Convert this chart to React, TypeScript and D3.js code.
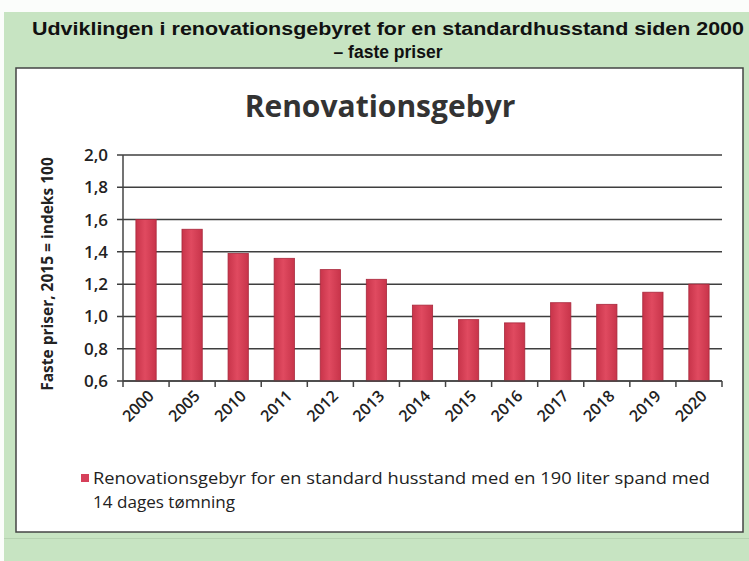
import { useMemo } from 'react';
import * as d3 from 'd3';

const years = ['2000', '2005', '2010', '2011', '2012', '2013', '2014', '2015', '2016', '2017', '2018', '2019', '2020'];
const fee = [1.6, 1.54, 1.39, 1.36, 1.29, 1.23, 1.07, 0.98, 0.96, 1.085, 1.075, 1.15, 1.2];
const yTicks = [0.6, 0.8, 1.0, 1.2, 1.4, 1.6, 1.8, 2.0];

const W = 749;
const H = 561;
const PLOT = { left: 123, right: 722, top: 155, bottom: 381 };

export default function App() {
    const x = useMemo(
        () => d3.scaleBand<string>().domain(years).range([PLOT.left, PLOT.right]).paddingInner(0.56).paddingOuter(0.28),
        []
    );
    const y = useMemo(() => d3.scaleLinear().domain([0.6, 2.0]).range([PLOT.bottom, PLOT.top]), []);
    const fmt = (v: number) => d3.format('.1f')(v).replace('.', ',');
    const tickXs = d3.range(years.length + 1).map((i) => PLOT.left + i * ((PLOT.right - PLOT.left) / years.length));

    return (
        <svg width={W} height={H} style={{ position: 'absolute', left: 0, top: 0 }}>
            <defs>
                <linearGradient id="bar" x1="0" x2="1" y1="0" y2="0">
                    <stop offset="0" stopColor="#c8344a" />
                    <stop offset="0.45" stopColor="#e04a60" />
                    <stop offset="1" stopColor="#c8344a" />
                </linearGradient>
            </defs>
            <rect x={0} y={0} width={W} height={H} fill="#fbfdfb" />
            <rect x={4} y={12} width={W - 4} height={H - 12} fill="#c7e4c2" />
            <text
                x={388}
                y={35}
                textAnchor="middle"
                fontFamily="Liberation Sans, Arial, sans-serif"
                fontWeight="bold"
                fontSize={17.5}
                textLength={712}
                lengthAdjust="spacingAndGlyphs"
                fill="#111"
            >
                Udviklingen i renovationsgebyret for en standardhusstand siden 2000
            </text>
            <text x={388} y={58} textAnchor="middle" fontFamily="Liberation Sans, Arial, sans-serif" fontWeight="bold" fontSize={17.5} fill="#111">
                – faste priser
            </text>
            <rect x={16} y={68} width={727} height={464} fill="#ffffff" stroke="#444" strokeWidth={1.5} />
            <text x={380} y={117} textAnchor="middle" fontFamily="Open Sans, sans-serif" fontWeight="bold" fontSize={30} fill="#333">
                Renovationsgebyr
            </text>

            {/* gridlines + y ticks */}
            {yTicks.map((t) => (
                <g key={t}>
                    <line x1={PLOT.left - 6} x2={PLOT.right} y1={y(t)} y2={y(t)} stroke="#3f3f3f" strokeWidth={1.5} />
                    <text
                        x={108}
                        y={y(t)}
                        dy="0.35em"
                        textAnchor="end"
                        fontFamily="Open Sans, sans-serif"
                        fontWeight="600"
                        fontSize={17}
                        fill="#222"
                    >
                        {fmt(t)}
                    </text>
                </g>
            ))}
            <line x1={PLOT.left} x2={PLOT.left} y1={PLOT.top} y2={PLOT.bottom} stroke="#444" strokeWidth={1.5} />

            {/* bars */}
            {years.map((yr, i) => (
                <rect
                    key={yr}
                    x={x(yr)}
                    y={y(fee[i])}
                    width={x.bandwidth()}
                    height={y(0.6) - y(fee[i])}
                    fill="url(#bar)"
                    stroke="#a8283c"
                    strokeWidth={0.8}
                />
            ))}

            {/* x axis */}
            <line x1={PLOT.left} x2={PLOT.right} y1={PLOT.bottom} y2={PLOT.bottom} stroke="#444" strokeWidth={1.5} />
            {tickXs.map((tx, i) => (
                <line key={i} x1={tx} x2={tx} y1={PLOT.bottom} y2={PLOT.bottom + 6} stroke="#444" strokeWidth={1.5} />
            ))}
            {years.map((yr) => {
                const cx = (x(yr) ?? 0) + x.bandwidth() / 2 + 5;
                return (
                    <text
                        key={yr}
                        transform={`translate(${cx},${PLOT.bottom + 12}) rotate(-45)`}
                        textAnchor="end"
                        dy="0.35em"
                        fontFamily="Open Sans, sans-serif"
                        fontWeight="600"
                        fontSize={16}
                        fill="#222"
                    >
                        {yr}
                    </text>
                );
            })}
            <text
                transform={`translate(53,${(PLOT.top + PLOT.bottom) / 2 + 6}) rotate(-90)`}
                textAnchor="middle"
                fontFamily="Open Sans, sans-serif"
                fontWeight="bold"
                fontSize={15.5}
                fill="#222"
            >
                Faste priser, 2015 = indeks 100
            </text>

            {/* legend */}
            <rect x={81} y={474} width={8} height={8} fill="#d6405a" />
            <text x={93} y={484} fontFamily="Open Sans, sans-serif" fontSize={16.5} textLength={617} lengthAdjust="spacingAndGlyphs" fill="#222">
                Renovationsgebyr for en standard husstand med en 190 liter spand med
            </text>
            <text x={93} y={508} fontFamily="Open Sans, sans-serif" fontSize={16.5} textLength={142} lengthAdjust="spacingAndGlyphs" fill="#222">
                14 dages tømning
            </text>
            <rect x={4} y={538} width={W - 4} height={1} fill="#b5d2b0" />
        </svg>
    );
}
